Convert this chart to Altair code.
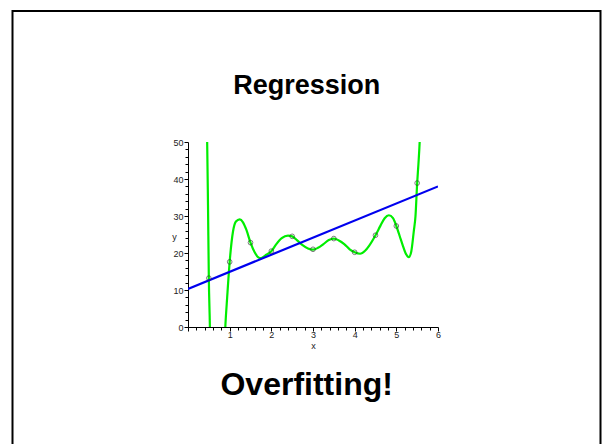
import altair as alt
import pandas as pd

# Observed data points (x, y)
pts_x = [0.5, 1.0, 1.5, 2.0, 2.5, 3.0, 3.5, 4.0, 4.5, 5.0, 5.5]
pts_y = [13.2, 17.6, 22.8, 20.5, 24.5, 21.0, 23.9, 20.2, 24.8, 27.3, 38.9]

# Overfitted curve
curve_x = [0.44, 0.46, 0.48, 0.50, 0.52, 0.54, 0.87, 0.90, 0.94, 1.00, 1.08, 1.15,
           1.24, 1.32, 1.40, 1.50, 1.60, 1.68, 1.75, 1.85, 2.00, 2.12, 2.25, 2.40,
           2.50, 2.62, 2.75, 2.88, 3.00, 3.12, 3.25, 3.38, 3.50, 3.62, 3.75, 3.88,
           4.00, 4.13, 4.25, 4.35, 4.50, 4.62, 4.72, 4.82, 4.92, 5.00, 5.08, 5.15,
           5.22, 5.30, 5.36, 5.42, 5.46, 5.50, 5.53, 5.56, 5.58]
curve_y = [56, 50, 33, 13.2, 3, -6, -6, 1, 8, 17.6, 25.8, 28.5,
           29.1, 28.3, 26.3, 22.8, 20.2, 18.9, 18.6, 19.3, 20.5, 22.4, 24.0, 24.7,
           24.5, 23.4, 22.1, 21.2, 20.9, 21.4, 22.4, 23.5, 23.9, 23.4, 22.4, 21.0,
           20.2, 19.8, 20.6, 22.0, 24.8, 27.4, 29.4, 30.2, 29.4, 27.3, 24.6, 22.2,
           20.0, 18.9, 20.5, 26.0, 30.0, 38.9, 44.0, 50.0, 56.0]

# Regression line end points
reg_x = [0, 6]
reg_y = [10.3, 38.0]

x_ticks = [round(i * 0.2, 1) for i in range(31)]
y_ticks = list(range(0, 51, 2))

title_text = "Regression"
footer_text = "Overfitting!"

pts = pd.DataFrame({"x": pts_x, "y": pts_y})
curve = pd.DataFrame({"x": curve_x, "y": curve_y})
reg = pd.DataFrame({"x": reg_x, "y": reg_y})

FONT = "Liberation Sans"

xscale = alt.Scale(domain=[0, 6], nice=False, zero=False)
yscale = alt.Scale(domain=[0, 50], nice=False, zero=False)

x_axis = alt.Axis(
    values=x_ticks, tickCount=100,
    labelExpr="datum.value >= 0.5 && abs(datum.value - round(datum.value)) < 0.001 ? format(round(datum.value), 'd') : ''",
    labelOverlap=False, labelFlush=False,
    tickSize={"condition": {"test": "abs(datum.value - round(datum.value)) < 0.001", "value": 4}, "value": 3},
    tickColor="black", domainColor="black", domainWidth=1, tickWidth=1,
    labelFont=FONT, labelFontSize=9, labelColor="#222", labelPadding=-1,
    grid=False, title="x", titleFont=FONT, titleFontSize=9, titleFontWeight="normal",
    titleColor="#222", titleY=18, titleBaseline="middle",
)
y_axis = alt.Axis(
    values=y_ticks, tickCount=100,
    labelExpr="abs(datum.value / 10 - round(datum.value / 10)) < 0.001 ? format(round(datum.value), 'd') : ''",
    labelOverlap=False, labelFlush=False,
    tickSize={"condition": {"test": "abs(datum.value / 10 - round(datum.value / 10)) < 0.001", "value": 4}, "value": 3},
    tickColor="black", domainColor="black", domainWidth=1, tickWidth=1,
    labelFont=FONT, labelFontSize=9, labelColor="#222", labelPadding=1,
    grid=False, title="y", titleFont=FONT, titleFontSize=9, titleFontWeight="normal",
    titleColor="#222", titleAngle=0, titleX=-14, titleY=94,
    titleAlign="center", titleBaseline="middle",
)

curve_layer = alt.Chart(curve).mark_line(
    color="#00ee00", strokeWidth=2.2, clip=True, interpolate="monotone"
).encode(
    x=alt.X("x:Q", scale=xscale, axis=x_axis),
    y=alt.Y("y:Q", scale=yscale, axis=y_axis),
)

reg_layer = alt.Chart(reg).mark_line(color="#0000ee", strokeWidth=2.2, clip=True).encode(
    x=alt.X("x:Q", scale=xscale),
    y=alt.Y("y:Q", scale=yscale),
)

pts_layer = alt.Chart(pts).mark_point(
    shape="circle", size=22, filled=False, color="#333", strokeWidth=0.9
).encode(
    x=alt.X("x:Q", scale=xscale),
    y=alt.Y("y:Q", scale=yscale),
)

one = pd.DataFrame({"t": [title_text], "f": [footer_text]})

border = alt.Chart(one).mark_rect(
    filled=False, stroke="black", strokeWidth=2, fill="transparent"
).encode(
    x=alt.value(-175.5), x2=alt.value(412.5), y=alt.value(-131), y2=alt.value(330)
)

title_layer = alt.Chart(one).mark_text(
    font=FONT, fontSize=27, fontWeight="bold", align="center", baseline="alphabetic", color="black"
).encode(text="t:N", x=alt.value(118.7), y=alt.value(-47.7))

footer_layer = alt.Chart(one).mark_text(
    font=FONT, fontSize=32, fontWeight="bold", align="center", baseline="alphabetic", color="black"
).encode(text="f:N", x=alt.value(118.7), y=alt.value(253))

chart = alt.layer(
    border, curve_layer, reg_layer, pts_layer, title_layer, footer_layer
).properties(
    width=250, height=185,
    autosize=alt.AutoSizeParams(type="none"),
    padding={"left": 188, "top": 142, "right": 164, "bottom": 117},
    background="white",
).configure_view(stroke="transparent")

chart.save("out.html", embed_options={"renderer": "svg", "actions": False})
